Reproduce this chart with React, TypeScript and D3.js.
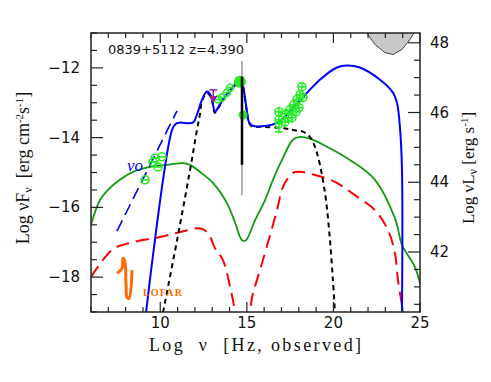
import React from 'react';
import * as d3 from 'd3';

// model curves, [log nu, log nuFnu]
const totalModel: [number, number][] = [
  [9.18, -19.01], [10.68, -13.78], [10.91, -13.6], [11.14, -13.57], [11.89, -13.57],
  [12.12, -13.34], [12.41, -12.91], [12.7, -12.68], [12.93, -12.8], [13.16, -13.26],
  [13.33, -13.14], [13.62, -12.91], [13.91, -12.71], [14.31, -12.48], [14.55, -12.31],
  [14.72, -12.42], [15.01, -13.26], [15.12, -13.55], [15.35, -13.66], [16.45, -13.63],
  [16.91, -13.52], [19.22, -12.34], [20.2, -11.99], [20.78, -11.93], [21.53, -11.99],
  [22.69, -12.34], [23.44, -12.71], [23.67, -13.0], [23.84, -13.69], [23.96, -14.93],
  [23.96, -19.01],
];
const greenModel: [number, number][] = [
  [6.0, -16.5], [6.52, -15.79], [7.1, -15.44], [7.67, -15.21], [8.42, -14.98],
  [9.41, -14.84], [10.39, -14.78], [11.31, -14.73], [11.72, -14.78], [12.29, -14.98],
  [13.04, -15.3], [13.85, -15.88], [14.31, -16.42], [14.72, -16.94], [14.95, -16.94],
  [15.47, -16.37], [16.05, -15.79], [16.51, -15.21], [17.03, -14.64], [17.66, -14.06],
  [18.07, -13.98], [18.64, -14.03], [19.63, -14.26], [20.95, -14.64], [22.4, -15.21],
  [23.55, -16.31], [23.96, -17.08], [24.3, -17.37], [24.71, -17.71], [25.0, -18.18],
];
const redModel: [number, number][] = [
  [6.0, -18.0], [7.27, -17.2], [8.42, -17.0], [9.98, -16.85], [11.14, -16.71],
  [12.29, -16.6], [12.76, -16.74], [13.16, -17.17], [13.62, -17.51], [14.2, -18.66],
  [14.37, -19.01], [15.06, -19.01], [15.35, -18.47], [15.93, -17.51], [16.74, -16.08],
  [17.09, -15.41], [17.66, -15.01], [18.07, -14.98], [18.93, -15.07], [20.09, -15.27],
  [21.24, -15.65], [22.4, -16.08], [23.15, -16.65], [23.55, -17.31], [23.73, -18.09],
  [23.96, -18.81], [24.01, -19.01],
];
const blackModel: [number, number][] = [
  [10.16, -19.01], [10.97, -16.94], [11.72, -14.93], [12.12, -13.78], [12.29, -13.34],
  [12.41, -12.95], [12.7, -12.72], [12.93, -12.84], [13.16, -13.29], [13.33, -13.17],
  [13.62, -12.94], [13.91, -12.74], [14.31, -12.51], [14.55, -12.34], [14.72, -12.45],
  [15.01, -13.29], [15.12, -13.58], [15.35, -13.69], [15.76, -13.69], [16.91, -13.72],
  [17.66, -13.78], [18.24, -13.83], [18.64, -13.98], [18.93, -14.26], [19.11, -14.55],
  [19.34, -15.07], [19.57, -15.79], [19.8, -16.94], [19.97, -18.09], [20.09, -19.01],
];
const nu0Line: [number, number][] = [[7.5, -16.68], [10.97, -13.23]];
const lofarSpec: [number, number][] = [
  [7.5, -17.89], [7.79, -17.75], [7.85, -17.46], [7.96, -17.57], [8.02, -18.18],
  [8.08, -18.58], [8.19, -18.61], [8.37, -17.8],
];
const gammaBowtie: [number, number][] = [
  [21.82, -10.9], [22.0, -11.05], [22.4, -11.33], [22.97, -11.56], [23.44, -11.62],
  [23.96, -11.47], [24.42, -11.19], [24.77, -10.9],
];

// data points
const irPoints: [number, number][] = [
  [9.12, -15.21], [9.7, -14.59], [10.1, -14.55], [9.58, -14.7], [9.87, -14.84],
];
const optPoints: [number, number][] = [
  [13.33, -12.91], [13.56, -12.85], [13.85, -12.71], [14.03, -12.57],
];
const bigDots: [number, number, number][] = [[14.6, -12.4, 6], [14.78, -13.35, 4.5]];
const xrayPoints: [number, number][] = [
  [16.85, -13.26], [16.85, -13.49], [17.2, -13.32], [17.37, -13.43], [17.49, -13.2],
  [17.61, -13.43], [17.72, -13.06], [17.84, -13.26], [17.89, -12.91], [18.01, -13.14],
  [18.07, -12.77], [18.24, -12.85], [18.18, -12.54], [17.2, -13.55],
];
const xrayLow: [number, number, number] = [16.85, -13.63, -13.84];
const uvLimit: [number, number, number] = [13.06, -12.63, -12.97];
const specGray: [number, number, number] = [14.72, -11.8, -15.65];
const specBlack: [number, number, number] = [14.72, -12.25, -14.78];

const xMajor = [10, 15, 20, 25];
const yMajor = [-12, -14, -16, -18];
const lMajor = [42, 44, 46, 48];
const lOffset = 59.28;

const W = 491, H = 382;
const L = 91, R = 420, T = 33, B = 312;

const x = d3.scaleLinear().domain([6, 25]).range([L, R]);
const y = d3.scaleLinear().domain([-19, -11]).range([B, T]);
const yL = d3.scaleLinear().domain([-19 + lOffset, -11 + lOffset]).range([B, T]);

const smooth = d3.line<[number, number]>().x(d => x(d[0])).y(d => y(d[1])).curve(d3.curveCatmullRom.alpha(0.5));
const straight = d3.line<[number, number]>().x(d => x(d[0])).y(d => y(d[1]));

const GREEN = '#22ee22';
const tickFont = 'DejaVu Sans, sans-serif';
const serif = 'Liberation Serif, Times New Roman, serif';

export default function App() {
  const xTicks = d3.range(6, 25.01, 1);
  const yTicks = d3.range(-19, -10.99, 0.5);
  const lTicks = d3.range(40.5, 48.29, 0.5);

  return (
    <svg width={W} height={H} style={{ position: 'absolute', left: 0, top: 0, background: '#fff' }}>
      <defs>
        <clipPath id="plot"><rect x={L} y={T} width={R - L} height={B - T} /></clipPath>
      </defs>

      <g clipPath="url(#plot)">
        <path d={straight(gammaBowtie) + 'Z'} fill="#c8c8c8" stroke="#444" strokeWidth={1} />
        <path d={smooth(greenModel)!} fill="none" stroke="#119911" strokeWidth={1.8} />
        <path d={smooth(redModel)!} fill="none" stroke="#ff0000" strokeWidth={2} strokeDasharray="13,7" />
        <path d={smooth(blackModel)!} fill="none" stroke="#000" strokeWidth={2} strokeDasharray="5,4" />
        <path d={straight(nu0Line)!} fill="none" stroke="#0000ff" strokeWidth={1.6} strokeDasharray="12,6" />
        <path d={smooth(totalModel)!} fill="none" stroke="#0000ff" strokeWidth={2} />
        <path d={smooth(lofarSpec)!} fill="none" stroke="#ff6a00" strokeWidth={3} strokeLinejoin="round" />

        {/* IR / optical / X-ray points */}
        {irPoints.map((d, i) => (
          <g key={'ir' + i} stroke={GREEN} strokeWidth={1.5} fill="none">
            <circle cx={x(d[0])} cy={y(d[1])} r={4} />
            <line x1={x(d[0]) - 4} x2={x(d[0]) + 4} y1={y(d[1])} y2={y(d[1])} />
          </g>
        ))}
        {optPoints.map((d, i) => (
          <g key={'op' + i} stroke={GREEN} strokeWidth={1.5} fill="none">
            <circle cx={x(d[0])} cy={y(d[1])} r={3.5} />
            <line x1={x(d[0]) - 3.5} x2={x(d[0]) + 3.5} y1={y(d[1])} y2={y(d[1])} />
          </g>
        ))}
        {xrayPoints.map((d, i) => (
          <g key={'xr' + i} stroke={GREEN} strokeWidth={1.5} fill="none">
            <circle cx={x(d[0])} cy={y(d[1])} r={4} />
            <line x1={x(d[0]) - 4} x2={x(d[0]) + 4} y1={y(d[1])} y2={y(d[1])} />
            <line x1={x(d[0])} x2={x(d[0])} y1={y(d[1]) - 5} y2={y(d[1]) + 5} />
          </g>
        ))}
        <g stroke={GREEN} strokeWidth={1.5} fill="none">
          <circle cx={x(xrayLow[0])} cy={y(xrayLow[1])} r={3.5} />
          <line x1={x(xrayLow[0])} x2={x(xrayLow[0])} y1={y(xrayLow[1]) - 3.5} y2={y(xrayLow[2])} />
          <line x1={x(xrayLow[0]) - 4} x2={x(xrayLow[0]) + 4} y1={y(xrayLow[2])} y2={y(xrayLow[2])} />
        </g>

        {/* upper limit */}
        <g stroke="#992299" strokeWidth={1.5} fill="#992299">
          <line x1={x(uvLimit[0]) - 4} x2={x(uvLimit[0]) + 4} y1={y(uvLimit[1])} y2={y(uvLimit[1])} />
          <line x1={x(uvLimit[0])} x2={x(uvLimit[0])} y1={y(uvLimit[1])} y2={y(uvLimit[2])} />
          <path d={`M${x(uvLimit[0]) - 3},${y(uvLimit[2]) - 5}L${x(uvLimit[0]) + 3},${y(uvLimit[2]) - 5}L${x(uvLimit[0])},${y(uvLimit[2])}Z`} />
        </g>

        {/* optical spectrum */}
        <line x1={x(specGray[0])} x2={x(specGray[0])} y1={y(specGray[1])} y2={y(specGray[2])} stroke="#999" strokeWidth={1.5} />
        {bigDots.map((d, i) => (
          <circle key={'bd' + i} cx={x(d[0])} cy={y(d[1])} r={d[2]} fill={GREEN} />
        ))}
        <line x1={x(specBlack[0])} x2={x(specBlack[0])} y1={y(specBlack[1])} y2={y(specBlack[2])} stroke="#000" strokeWidth={2.5} />
      </g>

      {/* frame */}
      <rect x={L} y={T} width={R - L} height={B - T} fill="none" stroke="#222" strokeWidth={1.5} />

      {/* x ticks (bottom and top) */}
      {xTicks.map(v => {
        const len = v % 5 === 0 ? 10 : 5;
        return (
          <g key={'xt' + v} stroke="#222" strokeWidth={1.2}>
            <line x1={x(v)} x2={x(v)} y1={B} y2={B - len} />
            <line x1={x(v)} x2={x(v)} y1={T} y2={T + len} />
          </g>
        );
      })}
      {yTicks.map(v => {
        const len = Math.abs(v % 2) < 1e-6 ? 12 : 6;
        return <line key={'yt' + v} x1={L} x2={L + len} y1={y(v)} y2={y(v)} stroke="#222" strokeWidth={1.2} />;
      })}
      {lTicks.map(v => {
        const len = Math.abs(v % 2) < 1e-6 ? 12 : 6;
        return <line key={'lt' + v} x1={R} x2={R - len} y1={yL(v)} y2={yL(v)} stroke="#222" strokeWidth={1.2} />;
      })}

      {/* tick labels */}
      <g fontFamily={tickFont} fontSize={15} fill="#111">
        {xMajor.map(v => (
          <text key={'xl' + v} x={x(v)} y={328} textAnchor="middle">{v}</text>
        ))}
        {yMajor.map(v => (
          <text key={'yl' + v} x={80} y={y(v) + 5} textAnchor="end">{'\u2212' + Math.abs(v)}</text>
        ))}
        {lMajor.map(v => (
          <text key={'ll' + v} x={430} y={yL(v) + 5}>{v}</text>
        ))}
      </g>

      {/* axis titles */}
      <text x={255} y={351} textAnchor="middle" fontFamily={serif} fontSize={18} fill="#111"
        textLength={212} lengthAdjust="spacing" style={{ whiteSpace: 'pre' }}>
        {'Log  \u03bd  [Hz, observed]'}
      </text>
      <text transform="translate(29,168) rotate(-90)" textAnchor="middle" fontFamily={serif} fontSize={18} fill="#111" style={{ whiteSpace: 'pre' }}>
        {'Log \u03bdF'}<tspan fontSize={12} baselineShift="-3">{'\u03bd'}</tspan>
        <tspan>{'  [erg cm'}</tspan><tspan fontSize={11} baselineShift="6">-2</tspan>
        <tspan>s</tspan><tspan fontSize={11} baselineShift="6">-1</tspan><tspan>]</tspan>
      </text>
      <text transform="translate(474,168) rotate(-90)" textAnchor="middle" fontFamily={serif} fontSize={17} fill="#111" style={{ whiteSpace: 'pre' }}>
        {'Log \u03bdL'}<tspan fontSize={12} baselineShift="-3">{'\u03bd'}</tspan>
        <tspan>{' [erg s'}</tspan><tspan fontSize={11} baselineShift="6">-1</tspan><tspan>]</tspan>
      </text>

      {/* annotations */}
      <text x={108} y={54} fontFamily={tickFont} fontSize={13} fill="#111">0839+5112 z=4.390</text>
      <text x={127} y={171} fontFamily={serif} fontStyle="italic" fontSize={17} fill="#0000ff">{'\u03bdo'}</text>
      <text x={143} y={296} fontFamily={serif} fontWeight="bold" fontSize={10} fill="#ff6a00" textLength={39}>LOFAR</text>
    </svg>
  );
}
